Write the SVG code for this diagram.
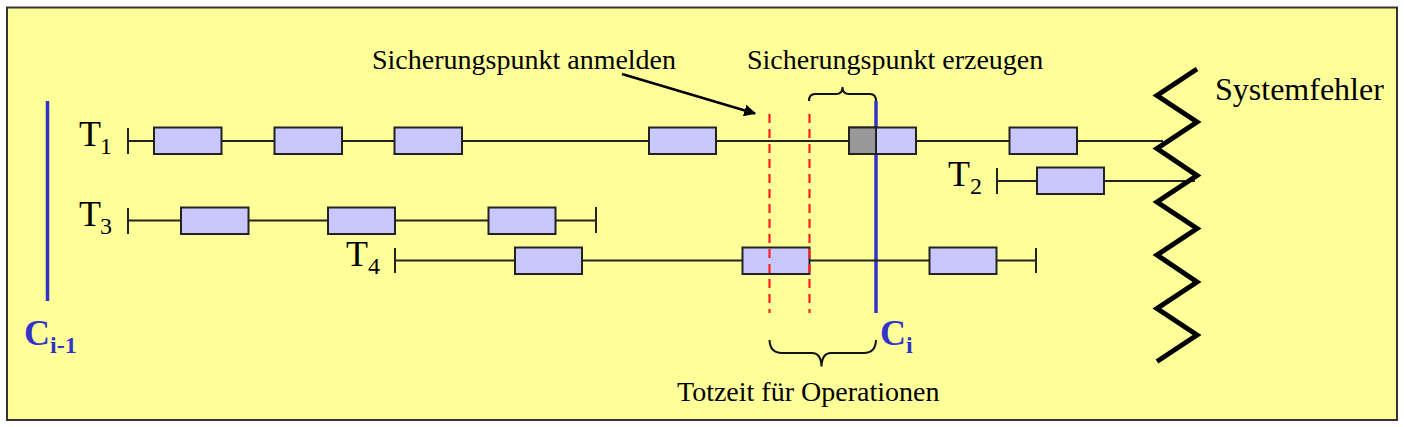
<svg xmlns="http://www.w3.org/2000/svg" width="1404" height="427" viewBox="0 0 1404 427">
<style>
.lbl{font-family:"Liberation Serif","Times New Roman",serif;fill:#000}
.t{font-size:36px}
.sub{font-size:24px}
.note{font-size:28px}
.box{fill:#c8c8ff;stroke:#222;stroke-width:2}
.tl{stroke:#222;stroke-width:2;fill:none}
.ck{stroke:#3333cc;stroke-width:3.5}
.ckl{font-family:"Liberation Serif","Times New Roman",serif;font-weight:bold;fill:#3333cc;font-size:36px}
.cks{font-family:"Liberation Serif","Times New Roman",serif;font-weight:bold;fill:#3333cc;font-size:24px}
.red{stroke:#ff2020;stroke-width:2.2;stroke-dasharray:9 6}
.brace{stroke:#111;stroke-width:2;fill:none}
</style>
<defs>
<marker id="ah" viewBox="0 0 10 10" refX="9" refY="5" markerWidth="12" markerHeight="12" markerUnits="userSpaceOnUse" orient="auto">
<path d="M0,0 L10,5 L0,10 z" fill="#000"/>
</marker>
</defs>
<rect x="0" y="0" width="1404" height="427" fill="#fff"/>
<rect x="7" y="7.5" width="1390" height="412.5" fill="#ffff99" stroke="#333" stroke-width="2"/>

<g id="checkpoint-prev">
<line class="ck" x1="47.5" y1="101" x2="47.5" y2="301"/>
<text class="ckl" x="24" y="345">C</text><text class="cks" x="50" y="353">i-1</text>
</g>

<g id="checkpoint-i">
<line class="ck" x1="876" y1="101" x2="876" y2="313"/>
<text class="ckl" x="880" y="345">C</text><text class="cks" x="906" y="353">i</text>
</g>

<g id="T1">
<line class="tl" x1="128" y1="141" x2="1163" y2="141"/>
<line class="tl" x1="128" y1="128" x2="128" y2="154"/>
<rect class="box" x="154" y="127.5" width="67.5" height="26.5"/>
<rect class="box" x="274.5" y="127.5" width="67.5" height="26.5"/>
<rect class="box" x="394.5" y="127.5" width="67.5" height="26.5"/>
<rect class="box" x="649" y="127.5" width="67" height="26.5"/>
<rect class="box" x="849" y="127.5" width="67" height="26.5"/>
<rect x="849" y="127.5" width="27" height="26.5" fill="#999" stroke="#222" stroke-width="2"/>
<rect class="box" x="1009.5" y="127.5" width="67.5" height="26.5"/>
<text class="lbl t" x="79" y="146">T</text><text class="lbl sub" x="100" y="154">1</text>
</g>

<g id="T2">
<line class="tl" x1="997" y1="181" x2="1195" y2="181"/>
<line class="tl" x1="997" y1="168" x2="997" y2="194"/>
<rect class="box" x="1037" y="167.5" width="67" height="26.5"/>
<text class="lbl t" x="948" y="186">T</text><text class="lbl sub" x="970" y="194">2</text>
</g>

<g id="T3">
<line class="tl" x1="128" y1="220.5" x2="596" y2="220.5"/>
<line class="tl" x1="128" y1="208" x2="128" y2="234"/>
<line class="tl" x1="596" y1="207" x2="596" y2="233"/>
<rect class="box" x="181" y="207.5" width="67.5" height="26.5"/>
<rect class="box" x="328" y="207.5" width="67" height="26.5"/>
<rect class="box" x="488.5" y="207.5" width="67" height="26.5"/>
<text class="lbl t" x="79" y="226">T</text><text class="lbl sub" x="100" y="234">3</text>
</g>

<g id="T4">
<line class="tl" x1="395" y1="260.5" x2="1036" y2="260.5"/>
<line class="tl" x1="395" y1="248" x2="395" y2="273"/>
<line class="tl" x1="1036" y1="248" x2="1036" y2="273"/>
<rect class="box" x="515" y="247.5" width="67" height="26.5"/>
<rect class="box" x="742.5" y="247.5" width="67" height="26.5"/>
<rect class="box" x="929.5" y="247.5" width="67" height="26.5"/>
<text class="lbl t" x="346" y="266">T</text><text class="lbl sub" x="368" y="274">4</text>
</g>

<g id="systemfehler">
<polyline fill="none" stroke="#000" stroke-width="5" stroke-linejoin="miter" points="1197,69 1157,95.5 1197,122 1157,148.5 1197,175.5 1157,202 1197,228.5 1157,255 1197,282 1157,308.5 1197,335 1157,361.5"/>
<text class="lbl" x="1215" y="100" font-size="32">Systemfehler</text>
</g>

<g id="dead-time">
<line class="red" x1="769.5" y1="114" x2="769.5" y2="313"/>
<line class="red" x1="809.5" y1="114" x2="809.5" y2="313"/>
<path class="brace" d="M769.5,340 Q770,353 782,353 L812,353 Q821,353 821.5,366.5 Q822,353 831,353 L864,353 Q875.5,353 876,340"/>
<text class="lbl note" x="677" y="401">Totzeit für Operationen</text>
</g>

<g id="create-checkpoint">
<path class="brace" d="M809,101 Q809,94 815,94 L836,94 Q842.5,94 842.5,87 Q842.5,94 849,94 L870,94 Q876,94 876,101"/>
<text class="lbl note" x="747" y="69">Sicherungspunkt erzeugen</text>
</g>

<g id="register-checkpoint">
<text class="lbl note" x="372" y="69">Sicherungspunkt anmelden</text>
</g>

<g id="connectors">
<line x1="622" y1="74" x2="755" y2="113.5" stroke="#000" stroke-width="2.5" marker-end="url(#ah)"/>
</g>
</svg>
